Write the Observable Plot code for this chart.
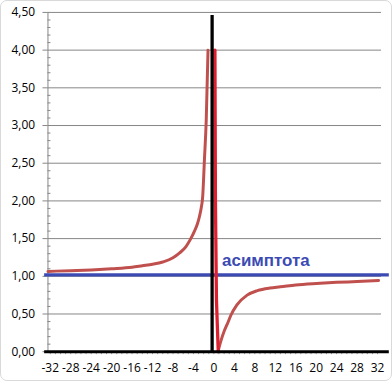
<!DOCTYPE html>
<html>
<head>
<meta charset="utf-8">
<script src="https://cdn.jsdelivr.net/npm/d3@7"></script>
<script src="https://cdn.jsdelivr.net/npm/@observablehq/plot@0.6"></script>
<style>
  html, body { margin: 0; padding: 0; background: #fff; }
  #chart { position: relative; width: 392px; height: 381px; box-sizing: border-box; border: 1px solid #d9d9d9; border-radius: 7px; overflow: hidden; }
  #chart svg { position: absolute; left: -1px; top: -1px; }
</style>
</head>
<body>
<div id="chart"></div>
<script>
// ---- data ----
const xTicks = [-32, -28, -24, -20, -16, -12, -8, -4, 0, 4, 8, 12, 16, 20, 24, 28, 32];
const yTicks = [0, 0.5, 1, 1.5, 2, 2.5, 3, 3.5, 4, 4.5];
const yMinor = d3.range(0, 4.5001, 0.1).map(v => +v.toFixed(2)).filter(v => Math.round(v * 10) % 5 !== 0);
const xMinor = d3.range(-32, 33, 1);

// left branch (x < 0)
const leftX = [-32.45, -28, -24, -20, -16, -14, -12, -10, -8, -6.7, -5.5, -4.6, -3.8, -3.2, -2.8, -2.5, -2.2, -1.85, -1.5, -1.15];
const leftY = [1.065, 1.075, 1.085, 1.1, 1.12, 1.14, 1.16, 1.19, 1.245, 1.31, 1.39, 1.49, 1.6, 1.7, 1.8, 1.9, 2.05, 2.55, 3.07, 4.0];
// bright red drop next to zero
const spikeX = [0.2, 0.3, 0.5, 0.85];
const spikeY = [4.0, 2.0, 0.68, 0.0];
// right branch (x > 0)
const rightX = [0.8, 1.4, 2.0, 2.7, 3.3, 4.5, 6.5, 8.5, 11, 13, 16, 20, 24, 28, 32.2];
const rightY = [0.0, 0.15, 0.27, 0.38, 0.48, 0.62, 0.75, 0.81, 0.845, 0.86, 0.885, 0.905, 0.92, 0.93, 0.945];

const asymptote = 1.02;
const vLineX = -0.35, vLineTop = 4.46;
const lineSpan = [-33.1, 34.3];
const label = "асимптота";
const labelPos = [1.6, 1.14];

// ---- build ----
const toRows = (xs, ys) => xs.map((x, i) => ({x, y: ys[i]}));
const left = toRows(leftX, leftY);
const spike = toRows(spikeX, spikeY);
const right = toRows(rightX, rightY);

const W = 392, H = 381;
const mL = 47.7, mR = 9, mT = 12, mB = 28;
const plotW = W - mL - mR;
const grey = "#868686";
const fmtY = d => d.toFixed(2).replace(".", ",");

const chart = Plot.plot({
  width: W, height: H,
  marginLeft: mL, marginRight: mR, marginTop: mT, marginBottom: mB,
  style: {fontFamily: "'Open Sans', sans-serif", color: "#000", background: "transparent", overflow: "visible"},
  x: {domain: [-32.45, 32.78]},
  y: {domain: [0, 4.5]},
  marks: [
    Plot.ruleY(yTicks.filter(d => d > 0), {stroke: grey, strokeWidth: 1}),
    Plot.frame({anchor: "left", stroke: grey}),
    Plot.ruleY(yMinor, {stroke: grey, insetRight: plotW - 3}),
    Plot.axisY({ticks: yTicks, tickSize: 5, tickPadding: 8, tickFormat: fmtY, stroke: grey, fill: "#000", fontSize: 12, label: null}),
    Plot.axisX({ticks: xMinor, tickSize: 3, tickFormat: () => "", stroke: "#a0a0a0", label: null}),
    Plot.axisX({ticks: xTicks, tickSize: 0, tickPadding: 12, tickFormat: d => String(d), fill: "#000", fontSize: 12, label: null}),
    Plot.ruleY([asymptote], {x1: lineSpan[0], x2: lineSpan[1], stroke: "#3c4bb4", strokeWidth: 3.3}),
    Plot.line(left, {x: "x", y: "y", stroke: "#c0504d", strokeWidth: 3, curve: "monotone-x"}),
    Plot.line(right, {x: "x", y: "y", stroke: "#c0504d", strokeWidth: 3, curve: "monotone-x"}),
    Plot.line(spike, {x: "x", y: "y", stroke: "#dd2030", strokeWidth: 3.3}),
    Plot.ruleY([0], {x1: lineSpan[0], x2: lineSpan[1], stroke: "#000", strokeWidth: 3}),
    Plot.ruleX([vLineX], {y1: 0, y2: vLineTop, stroke: "#000", strokeWidth: 3.3}),
    Plot.text([label], {x: labelPos[0], y: labelPos[1], text: d => d, textAnchor: "start", lineAnchor: "bottom", fill: "#3c4bb4", fontSize: 17, fontWeight: "bold", fontFamily: "'Liberation Sans', Arial, sans-serif"})
  ]
});
document.getElementById("chart").appendChild(chart);
</script>
</body>
</html>
